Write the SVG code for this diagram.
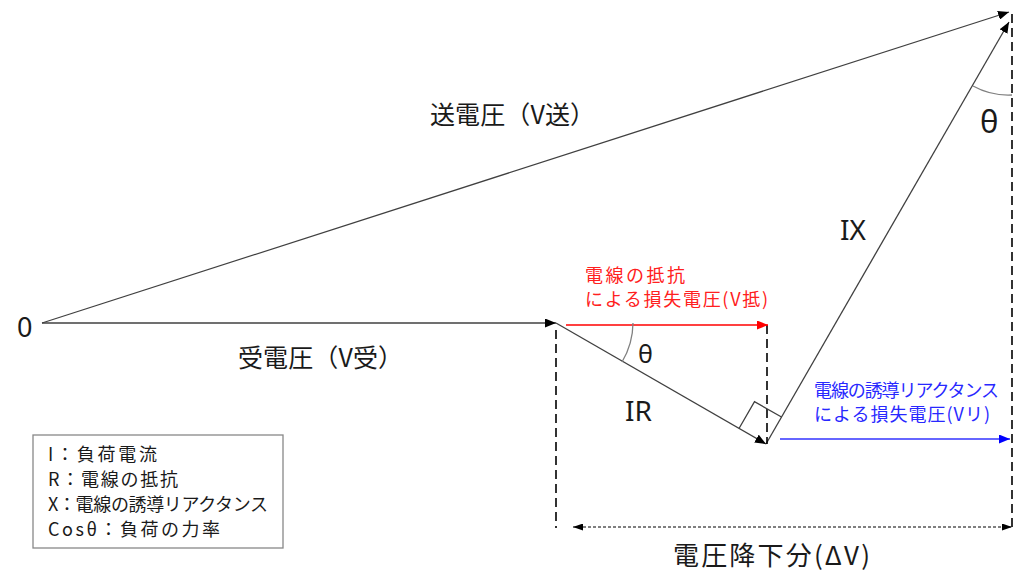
<svg xmlns="http://www.w3.org/2000/svg" width="1024" height="588" viewBox="0 0 1024 588">
<defs>
<marker id="ah" markerWidth="11" markerHeight="9" refX="11" refY="4.5" orient="auto" markerUnits="userSpaceOnUse"><path d="M0,0 L11,4.5 L0,9 z" fill="#000"/></marker>
<marker id="ahr" markerWidth="11" markerHeight="9" refX="11" refY="4.5" orient="auto" markerUnits="userSpaceOnUse"><path d="M0,0 L11,4.5 L0,9 z" fill="#ff0000"/></marker>
<marker id="ahb" markerWidth="11" markerHeight="9" refX="11" refY="4.5" orient="auto" markerUnits="userSpaceOnUse"><path d="M0,0 L11,4.5 L0,9 z" fill="#0000ff"/></marker>
<marker id="ahs" markerWidth="10" markerHeight="7" refX="0" refY="3.5" orient="auto" markerUnits="userSpaceOnUse"><path d="M10,0 L0,3.5 L10,7 z" fill="#000"/></marker>
<marker id="ahe" markerWidth="10" markerHeight="7" refX="10" refY="3.5" orient="auto" markerUnits="userSpaceOnUse"><path d="M0,0 L10,3.5 L0,7 z" fill="#000"/></marker>
</defs>
<style>
.v{stroke:#404040;stroke-width:1.3;fill:none}
.d{stroke:#000;stroke-width:1.6;stroke-dasharray:9,5;fill:none}
.arc{stroke:#808080;stroke-width:1.3;fill:none}
text{font-family:"Noto Sans CJK JP","Noto Sans",sans-serif;fill:#1a1a1a}
.big{font-size:25px}
.lat{font-family:"Noto Sans","DejaVu Sans",sans-serif}
.sm{font-size:18px}
.red{fill:#ff2020;font-size:18px}
.blue{fill:#2828ff;font-size:18px}
</style>
<g id="connectors">
<line class="v" x1="42" y1="323" x2="556" y2="323" marker-end="url(#ah)"/>
<line class="v" x1="42" y1="323" x2="1009" y2="12" marker-end="url(#ah)"/>
<line class="v" x1="556" y1="323" x2="766" y2="444" marker-end="url(#ah)"/>
<line class="v" x1="766" y1="444" x2="1009" y2="22" marker-end="url(#ah)"/>
<line class="d" x1="556" y1="330" x2="556" y2="528"/>
<line class="d" x1="767" y1="325" x2="767" y2="444"/>
<line class="d" x1="1012" y1="14" x2="1012" y2="528"/>
<line x1="566" y1="325" x2="768" y2="325" stroke="#ff0000" stroke-width="1.3" marker-end="url(#ahr)"/>
<line x1="780" y1="439" x2="1010" y2="439" stroke="#3333ff" stroke-width="1.5" marker-end="url(#ahb)"/>
<line x1="573" y1="527" x2="1012" y2="527" stroke="#000" stroke-width="1" stroke-dasharray="3,2" marker-start="url(#ahs)" marker-end="url(#ahe)"/>
<path class="arc" d="M633,323 A77,77 0 0 1 622,362"/>
<path class="arc" d="M973,86 A73,73 0 0 0 1012,95"/>
<polyline class="v" points="739,428.5 754.5,401.6 781.5,417"/>
</g>
<g id="labels">
<text class="lat" x="17" y="337" font-size="27">0</text>
<text class="big" x="430" y="124" textLength="165">送電圧（V送）</text>
<text class="big" x="238" y="367" textLength="165">受電圧（V受）</text>
<text class="lat" x="638" y="363" font-size="25">θ</text>
<text class="lat" x="980" y="133" font-size="31">θ</text>
<text class="lat" x="840" y="240" font-size="28">IX</text>
<text class="lat" x="625" y="421" font-size="28">IR</text>
</g>
<g id="red-label">
<text class="red" x="585" y="282" textLength="100">電線の抵抗</text>
<text class="red" x="585" y="306" textLength="183">による損失電圧(V抵)</text>
</g>
<g id="blue-label">
<text class="blue" x="814" y="397" textLength="185">電線の誘導リアクタンス</text>
<text class="blue" x="814" y="421" textLength="176">による損失電圧(Vリ)</text>
</g>
<g id="legend">
<rect x="33" y="435" width="250" height="113" fill="#fff" stroke="#888" stroke-width="1.3"/>
<text class="sm" x="48" y="461" textLength="109">I：負荷電流</text>
<text class="sm" x="48" y="486" textLength="130">R：電線の抵抗</text>
<text class="sm" x="48" y="511" textLength="220">X：電線の誘導リアクタンス</text>
<text class="sm" x="48" y="536" textLength="172">Cosθ：負荷の力率</text>
</g>
<g id="dv-label">
<text x="673" y="565" font-size="26" textLength="197">電圧降下分(ΔV)</text>
</g>
</svg>
